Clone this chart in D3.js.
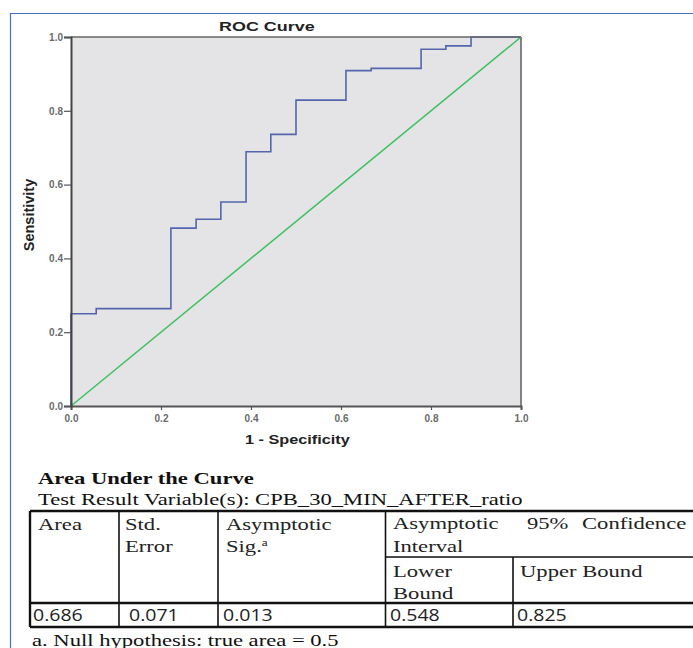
<!DOCTYPE html>
<html>
<head>
<meta charset="utf-8">
<script src="https://cdn.jsdelivr.net/npm/d3@7"></script>
<style>
  body { margin: 0; background: #fff; }
  svg { display: block; }
</style>
</head>
<body>
<div id="chart"></div>
<script>
// ROC points (1 - specificity, sensitivity)
const fpr = [0, 0, 0.056, 0.056, 0.222, 0.222, 0.278, 0.278, 0.333, 0.333, 0.389, 0.389,
             0.444, 0.444, 0.5, 0.5, 0.611, 0.611, 0.667, 0.667, 0.778, 0.778,
             0.833, 0.833, 0.889, 0.889, 1.0];
const tpr = [0, 0.25, 0.25, 0.264, 0.264, 0.482, 0.482, 0.506, 0.506, 0.553, 0.553, 0.689,
             0.689, 0.736, 0.736, 0.829, 0.829, 0.909, 0.909, 0.915, 0.915, 0.967,
             0.967, 0.976, 0.976, 1.0, 1.0];
const refLine = [0, 1];
const ticks = [0, 0.2, 0.4, 0.6, 0.8, 1.0];

// AUC table
const tableTitle = "Area Under the Curve";
const tableSubtitle = "Test Result Variable(s): CPB_30_MIN_AFTER_ratio";
const aucValues = ["0.686", "0.071", "0.013", "0.548", "0.825"];
const footnote = "a. Null hypothesis: true area = 0.5";

const W = 693, H = 648;
const SX = 1.33; // the source picture is stretched sideways
const svg = d3.select("#chart").append("svg")
    .attr("width", W)
    .attr("height", H);

// draw a text stretched sideways like the source
function stretchText(tx, ty, t, font, size, sx) {
    return svg.append("text")
        .attr("transform", "translate(" + tx + "," + ty + ") scale(" + sx + ",1)")
        .style("font-family", font)
        .style("font-size", size + "px")
        .attr("fill", "#1a1a1a")
        .text(t);
}

// blue frame round the figure
svg.append("line").attr("x1", 10).attr("x2", W).attr("y1", 13.5).attr("y2", 13.5)
    .attr("stroke", "#4a6fbe").attr("stroke-width", 1.2);
svg.append("line").attr("x1", 10.5).attr("x2", 10.5).attr("y1", 13).attr("y2", H)
    .attr("stroke", "#4a6fbe").attr("stroke-width", 1.2);

const plot = {left: 71, right: 521, top: 37, bottom: 406};
const x = d3.scaleLinear().domain([0, 1]).range([plot.left, plot.right]);
const y = d3.scaleLinear().domain([0, 1]).range([plot.bottom, plot.top]);

svg.append("rect")
    .attr("x", plot.left).attr("y", plot.top)
    .attr("width", plot.right - plot.left).attr("height", plot.bottom - plot.top)
    .attr("fill", "#e4e4e6");

// reference diagonal
svg.append("line")
    .attr("x1", x(refLine[0])).attr("y1", y(refLine[0]))
    .attr("x2", x(refLine[1])).attr("y2", y(refLine[1]))
    .attr("stroke", "#3fc063").attr("stroke-width", 1.6);

// ROC curve
const pts = fpr.map((f, i) => [f, tpr[i]]);
svg.append("path")
    .datum(pts)
    .attr("fill", "none")
    .attr("stroke", "#5465ad")
    .attr("stroke-width", 1.6)
    .attr("d", d3.line().x(d => x(d[0])).y(d => y(d[1])));

// top and right edges of the plot
svg.append("line").attr("x1", plot.left).attr("x2", plot.right).attr("y1", plot.top).attr("y2", plot.top)
    .attr("stroke", "#666").attr("stroke-width", 1.5);
svg.append("line").attr("x1", plot.right).attr("x2", plot.right).attr("y1", plot.top).attr("y2", plot.bottom)
    .attr("stroke", "#777").attr("stroke-width", 1.8);

const xAxis = svg.append("g")
    .attr("transform", "translate(0," + plot.bottom + ")")
    .call(d3.axisBottom(x).tickValues(ticks).tickFormat(d3.format(".1f")).tickSize(4));
const yAxis = svg.append("g")
    .attr("transform", "translate(" + plot.left + ",0)")
    .call(d3.axisLeft(y).tickValues(ticks).tickFormat(d3.format(".1f")).tickSize(7));

[xAxis, yAxis].forEach(g => {
    g.select(".domain").attr("stroke", "#555").attr("stroke-width", 2);
    g.selectAll(".tick line").attr("stroke", "#555").attr("stroke-width", 1.2);
    g.selectAll(".tick text")
        .attr("fill", "#6a6a6a")
        .style("font-family", "Arial, 'Liberation Sans', sans-serif")
        .style("font-size", "10px")
        .style("font-weight", "bold");
});
yAxis.select(".domain").attr("stroke", "#444");
yAxis.selectAll(".tick text").attr("x", -8);
xAxis.selectAll(".tick text").attr("dy", "0.85em");

stretchText(219, 31, "ROC Curve", "Arial, 'Liberation Sans', sans-serif", 13.5, SX)
    .style("font-weight", "bold").attr("fill", "#222");
stretchText(245, 444, "1 - Specificity", "Arial, 'Liberation Sans', sans-serif", 12.5, 1.3)
    .style("font-weight", "bold").attr("fill", "#222");

svg.append("text")
    .attr("transform", "translate(34,215) rotate(-90)")
    .attr("text-anchor", "middle")
    .style("font-family", "Arial, 'Liberation Sans', sans-serif")
    .style("font-size", "14.5px").style("font-weight", "bold")
    .attr("fill", "#222")
    .text("Sensitivity");

// ---- AUC table ----
const serif = "'Liberation Serif', 'Times New Roman', serif";
const sans = "'Open Sans', 'Noto Sans', sans-serif";

stretchText(38, 484, tableTitle, serif, 17, SX).style("font-weight", "bold").attr("fill", "#111");
stretchText(38, 505, tableSubtitle, serif, 17, SX).attr("fill", "#111");

const colX = [30, 119, 218, 385.5, 513, 700];
const rowTop = 511, subLine = 557, headBottom = 603, rowBottom = 627;
const tbl = svg.append("g").attr("stroke", "#111");

// outer + heavy rules
tbl.append("line").attr("x1", colX[0]).attr("x2", W).attr("y1", rowTop).attr("y2", rowTop).attr("stroke-width", 2.4);
tbl.append("line").attr("x1", colX[0]).attr("x2", W).attr("y1", rowBottom).attr("y2", rowBottom).attr("stroke-width", 2.4);
tbl.append("line").attr("x1", colX[0]).attr("x2", W).attr("y1", headBottom).attr("y2", headBottom).attr("stroke-width", 2.4);
tbl.append("line").attr("x1", colX[3]).attr("x2", W).attr("y1", subLine).attr("y2", subLine).attr("stroke-width", 1.4);
tbl.append("line").attr("x1", colX[0]).attr("x2", colX[0]).attr("y1", rowTop).attr("y2", rowBottom).attr("stroke-width", 2.4);
[1, 2, 3].forEach(i => {
    tbl.append("line").attr("x1", colX[i]).attr("x2", colX[i]).attr("y1", rowTop).attr("y2", rowBottom).attr("stroke-width", 1.6);
});
tbl.append("line").attr("x1", colX[4]).attr("x2", colX[4]).attr("y1", subLine).attr("y2", rowBottom).attr("stroke-width", 1.6);

const headTxt = (tx, ty, t) => stretchText(tx, ty, t, serif, 17, SX).attr("fill", "#222");
headTxt(38, 530, "Area");
headTxt(125, 530, "Std.");
headTxt(125, 552, "Error");
headTxt(226, 530, "Asymptotic");
const sig = headTxt(226, 552, "Sig.");
sig.append("tspan").attr("dy", -6).style("font-size", "10px").text("a");
headTxt(393, 529, "Asymptotic");
headTxt(527, 529, "95%");
headTxt(582, 529, "Confidence");
headTxt(393, 552, "Interval");
headTxt(393, 577, "Lower");
headTxt(393, 599, "Bound");
headTxt(520, 577, "Upper Bound");

const valX = [33, 129, 223, 390, 517];
aucValues.forEach((v, i) => {
    stretchText(valX[i], 621, v, sans, 16, 1.22).attr("fill", "#222");
});

stretchText(32, 646, footnote, serif, 17, SX).attr("fill", "#111");
</script>
</body>
</html>
